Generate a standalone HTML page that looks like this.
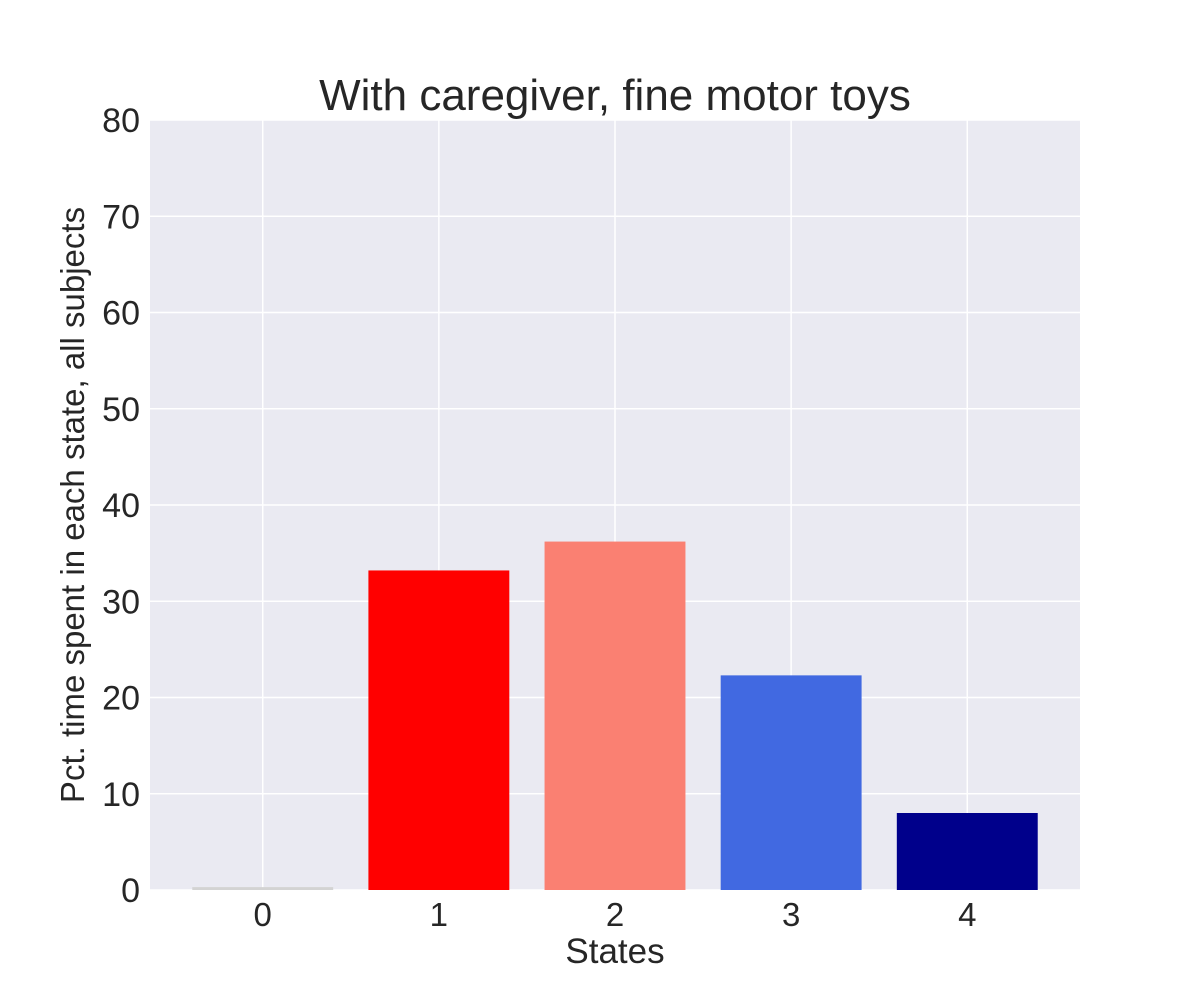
<!DOCTYPE html>
<html><head><meta charset="utf-8"><style>
body{margin:0;background:#fff;}
svg{display:block;font-family:"Liberation Sans",Arial,sans-serif;}
</style></head><body>
<svg id="chart" width="1200" height="1000">
<rect x="150" y="120" width="930" height="770" fill="#eaeaf2"/>
<g id="grid"></g><g id="bars"></g><g id="ticks"></g>
<text x="615" y="110" font-size="44" text-anchor="middle" fill="#262626">With caregiver, fine motor toys</text>
<text x="615" y="963" font-size="35" text-anchor="middle" fill="#262626">States</text>
<text transform="translate(84,505) rotate(-90)" font-size="33" text-anchor="middle" fill="#262626">Pct. time spent in each state, all subjects</text>
</svg>
<script>
const categories = ["0","1","2","3","4"];
const values = [0.3, 33.2, 36.2, 22.3, 8.0];
const colors = ["#d3d3d3","#ff0000","#fa8072","#4169e1","#00008b"];
const yTicks = [0,10,20,30,40,50,60,70,80];
const NS="http://www.w3.org/2000/svg";
const L=150,R=1080,T=120,B=890;
const xMin=-0.64,xMax=categories.length-1+0.64,yMax=80;
const x=v=>L+(v-xMin)/(xMax-xMin)*(R-L);
const y=v=>B-v/yMax*(B-T);
const bw=x(0.4)-x(-0.4);
function mk(tag,a,p){const e=document.createElementNS(NS,tag);for(const k in a)e.setAttribute(k,a[k]);document.getElementById(p).appendChild(e);return e;}
yTicks.forEach(t=>{
 const g=mk("line",{x1:L,x2:R,y1:y(t),y2:y(t),stroke:"#fff","stroke-width":1.5},"grid");
 
 
 const tx=mk("text",{x:140,y:y(t)+12,"font-size":34,"text-anchor":"end",fill:"#262626"},"ticks");
 tx.textContent=t;
 
 
});
categories.forEach((c,i)=>{
 const g=mk("line",{x1:x(i),x2:x(i),y1:T,y2:B,stroke:"#fff","stroke-width":1.5},"grid");
 
 
 const r=mk("rect",{x:x(i)-bw/2,y:y(values[i]),width:bw,height:B-y(values[i]),fill:colors[i]},"bars");
 
 
 const tx=mk("text",{x:x(i),y:926,"font-size":33,"text-anchor":"middle",fill:"#262626"},"ticks");
 tx.textContent=c;
 
 
});
</script>
</body></html>
